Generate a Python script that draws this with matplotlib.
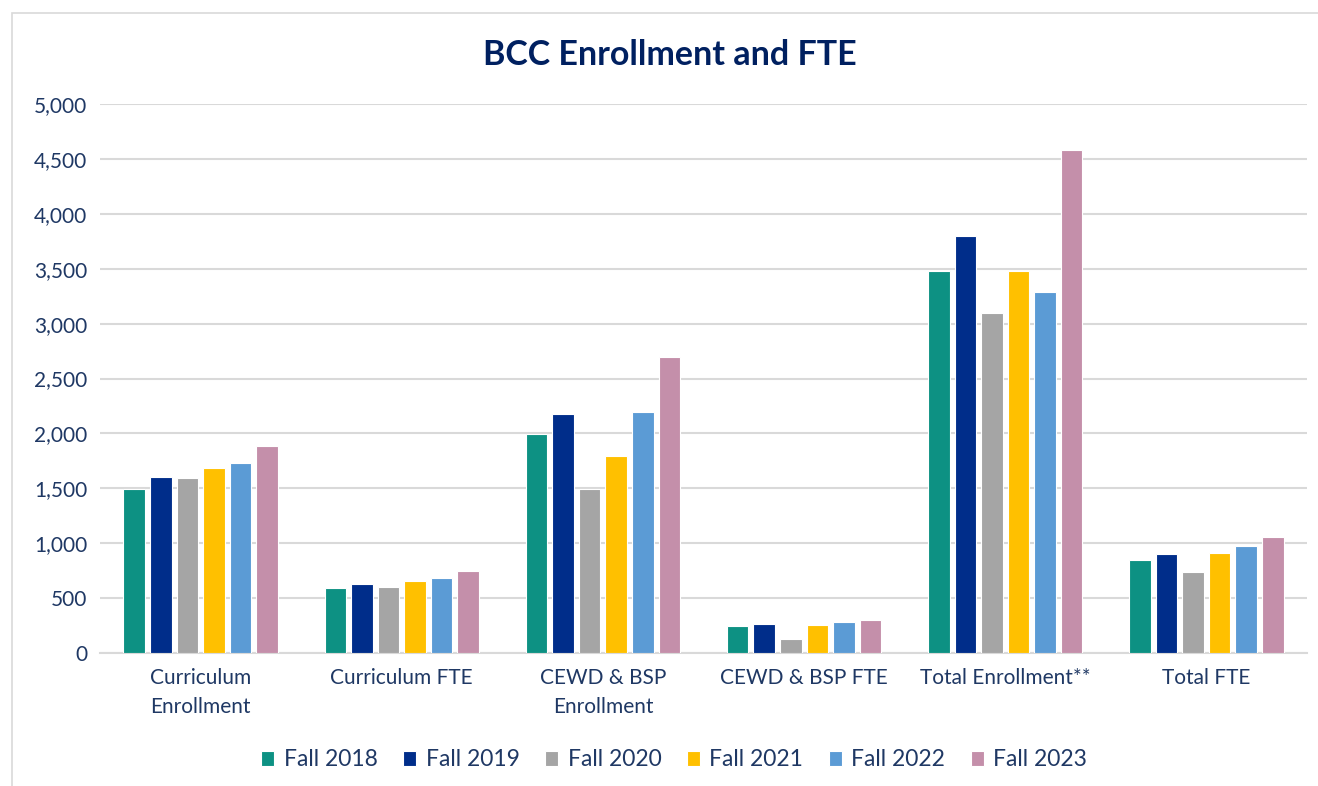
import numpy as np
import matplotlib.pyplot as plt
from matplotlib.patches import Rectangle
from matplotlib.ticker import FuncFormatter

plt.rcParams['font.family'] = ['Lato', 'DejaVu Sans']

# data
categories = ["Curriculum\nEnrollment", "Curriculum FTE", "CEWD & BSP\nEnrollment",
              "CEWD & BSP FTE", "Total Enrollment**", "Total FTE"]
series = ["Fall 2018", "Fall 2019", "Fall 2020", "Fall 2021", "Fall 2022", "Fall 2023"]
fall_2018 = [1490, 591, 1995, 246, 3480, 843]
fall_2019 = [1605, 627, 2177, 264, 3796, 900]
fall_2020 = [1596, 600, 1494, 127, 3096, 738]
fall_2021 = [1688, 655, 1794, 255, 3480, 915]
fall_2022 = [1727, 682, 2195, 282, 3290, 972]
fall_2023 = [1886, 746, 2696, 300, 4580, 1054]

values = [fall_2018, fall_2019, fall_2020, fall_2021, fall_2022, fall_2023]
colors = ["#0D9183", "#002D8A", "#A5A5A5", "#FFC000", "#5B9BD5", "#C48FAA"]
text_col = "#1F3864"

fig = plt.figure(figsize=(13.18, 7.86), dpi=100)
# outer chart border
fig.patches.append(Rectangle((12 / 1318, -0.01), 1.02, 1 - 13 / 786 + 0.01,
                             transform=fig.transFigure, fill=False,
                             edgecolor="#D9D9D9", linewidth=1.2))

ax = fig.add_axes([100 / 1318, 1 - 653 / 786, 1207 / 1318, 549 / 786])

x = np.arange(len(categories))
slot = 0.132
bw = 0.107
for i, (name, vals) in enumerate(zip(series, values)):
    ax.bar(x + (i - 2.5) * slot, vals, width=bw, color=colors[i],
           edgecolor="white", linewidth=0.8, label=name, zorder=3)

ax.set_xlim(-0.5, len(categories) - 0.5)
ax.set_ylim(0, 5000)
ax.set_yticks(np.arange(0, 5001, 500))
ax.yaxis.set_major_formatter(FuncFormatter(lambda v, p: f"{int(v):,}"))
ax.grid(axis="y", color="#D9D9D9", linewidth=1.5, zorder=0)
for s in ["top", "right", "left"]:
    ax.spines[s].set_visible(False)
ax.spines["bottom"].set_color("#D9D9D9")
ax.spines["bottom"].set_linewidth(1.5)
ax.tick_params(axis="both", length=0, labelsize=15, colors=text_col, pad=9)
ax.tick_params(axis="x", pad=11)
ax.set_xticks(x)
ax.set_xticklabels(categories, linespacing=1.55)

fig.text(670 / 1318, 1 - 55 / 786, "BCC Enrollment and FTE", ha="center", va="center",
         fontsize=24.5, fontweight="bold", color="#002060")

leg = fig.legend(loc="center", bbox_to_anchor=(674 / 1318, 1 - 760 / 786), ncol=6,
                 frameon=False, fontsize=16.5, handlelength=0.6, handleheight=0.6,
                 handletextpad=0.4, columnspacing=1.1)
for t in leg.get_texts():
    t.set_color(text_col)

fig.savefig("out.png", dpi=100, facecolor="white")
